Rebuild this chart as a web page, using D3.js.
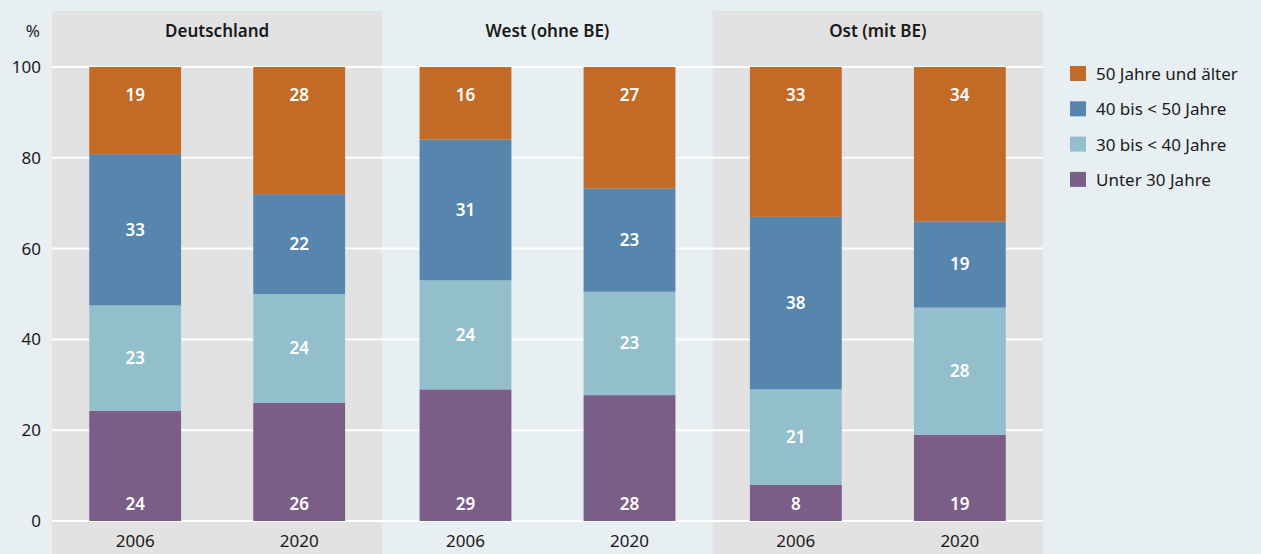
<!DOCTYPE html>
<html>
<head>
<meta charset="utf-8">
<script src="https://cdn.jsdelivr.net/npm/d3@7"></script>
<style>
  body { margin: 0; background: #e8eff3; }
  svg { display: block; font-family: "Noto Sans", sans-serif; }
</style>
</head>
<body>
<svg id="chart"></svg>
<script>
let regions = ['Deutschland', 'West (ohne BE)', 'Ost (mit BE)']
let years = ['2006', '2020']
let ageGroups = ['Unter 30 Jahre', '30 bis < 40 Jahre', '40 bis < 50 Jahre', '50 Jahre und älter']

// share in % per region and year, order: unter 30, 30-40, 40-50, 50+
let deutschland = [[24, 23, 33, 19], [26, 24, 22, 28]]
let west = [[29, 24, 31, 16], [28, 23, 23, 27]]
let ost = [[8, 21, 38, 33], [19, 28, 19, 34]]
let yTicks = [0, 20, 40, 60, 80, 100]

let colors = ['#7b5e88', '#92bfcb', '#5686ae', '#c46a27']

let width = 1261
let height = 554
let fontSize = 17

let svg = d3.select('#chart')
  .attr('width', width)
  .attr('height', height)

let allData = [deutschland, west, ost]

let panelX = d3.scaleBand()
  .domain(regions)
  .range([52, 1043])
  .padding(0)

let y = d3.scaleLinear()
  .domain([0, 100])
  .range([521, 67])

// panel backgrounds
svg.selectAll('.panel')
  .data(regions)
  .enter()
  .append('rect')
  .attr('x', (d) => panelX(d))
  .attr('y', 11)
  .attr('width', panelX.bandwidth())
  .attr('height', height - 11)
  .attr('fill', (d, i) => i === 1 ? '#e8eff3' : '#e2e2e2')

// grid lines
svg.selectAll('.grid')
  .data(yTicks)
  .enter()
  .append('line')
  .attr('x1', 52)
  .attr('x2', 1043)
  .attr('y1', (d) => y(d))
  .attr('y2', (d) => y(d))
  .attr('stroke', '#ffffff')
  .attr('stroke-width', 2)

// y axis labels
let yAxis = d3.axisLeft(y).tickValues(yTicks).tickSize(0).tickPadding(0)
let yAxisG = svg.append('g')
  .attr('transform', 'translate(41,0)')
  .call(yAxis)
yAxisG.select('.domain').remove()
yAxisG.selectAll('text')
  .attr('font-family', '"Noto Sans", sans-serif')
  .attr('font-size', fontSize)
  .attr('fill', '#1a1a1a')

svg.append('text')
  .attr('x', 40)
  .attr('y', 37)
  .attr('text-anchor', 'end')
  .attr('font-size', fontSize)
  .attr('fill', '#1a1a1a')
  .text('%')

regions.forEach((region, r) => {
  let x0 = panelX(region)
  let x = d3.scaleBand()
    .domain(years)
    .range([x0, x0 + panelX.bandwidth()])
    .paddingInner(0.44)
    .paddingOuter(0.227)

  svg.append('text')
    .attr('x', x0 + panelX.bandwidth() / 2)
    .attr('y', 37)
    .attr('text-anchor', 'middle')
    .attr('font-size', fontSize)
    .attr('font-weight', 600)
    .attr('fill', '#1a1a1a')
    .text(region)

  years.forEach((year, j) => {
    let values = allData[r][j]
    let total = d3.sum(values)
    let cum = 0
    values.forEach((v, k) => {
      let start = cum / total * 100
      cum += v
      let end = cum / total * 100
      svg.append('rect')
        .attr('x', x(year))
        .attr('y', y(end))
        .attr('width', x.bandwidth())
        .attr('height', y(start) - y(end))
        .attr('fill', colors[k])

      let ly
      if (k === 0) {
        ly = y(0) - 17
      } else if (k === values.length - 1) {
        ly = y(100) + 28
      } else {
        ly = (y(start) + y(end)) / 2
      }
      svg.append('text')
        .attr('x', x(year) + x.bandwidth() / 2)
        .attr('y', ly)
        .attr('dy', '0.35em')
        .attr('text-anchor', 'middle')
        .attr('font-size', fontSize)
        .attr('font-weight', 600)
        .attr('fill', '#ffffff')
        .text(v)
    })

    svg.append('text')
      .attr('x', x(year) + x.bandwidth() / 2)
      .attr('y', 547)
      .attr('text-anchor', 'middle')
      .attr('font-size', fontSize)
      .attr('fill', '#1a1a1a')
      .text(year)
  })
})

// legend
let legendOrder = ageGroups.slice().reverse()
let legend = svg.selectAll('.legend')
  .data(legendOrder)
  .enter()
  .append('g')
  .attr('transform', (d, i) => 'translate(1070,' + (66 + i * 35.3) + ')')

legend.append('rect')
  .attr('width', 16)
  .attr('height', 15)
  .attr('fill', (d) => colors[ageGroups.indexOf(d)])

legend.append('text')
  .attr('x', 26)
  .attr('y', 8)
  .attr('dy', '0.35em')
  .attr('font-size', fontSize)
  .attr('fill', '#1a1a1a')
  .text((d) => d)
</script>
</body>
</html>
